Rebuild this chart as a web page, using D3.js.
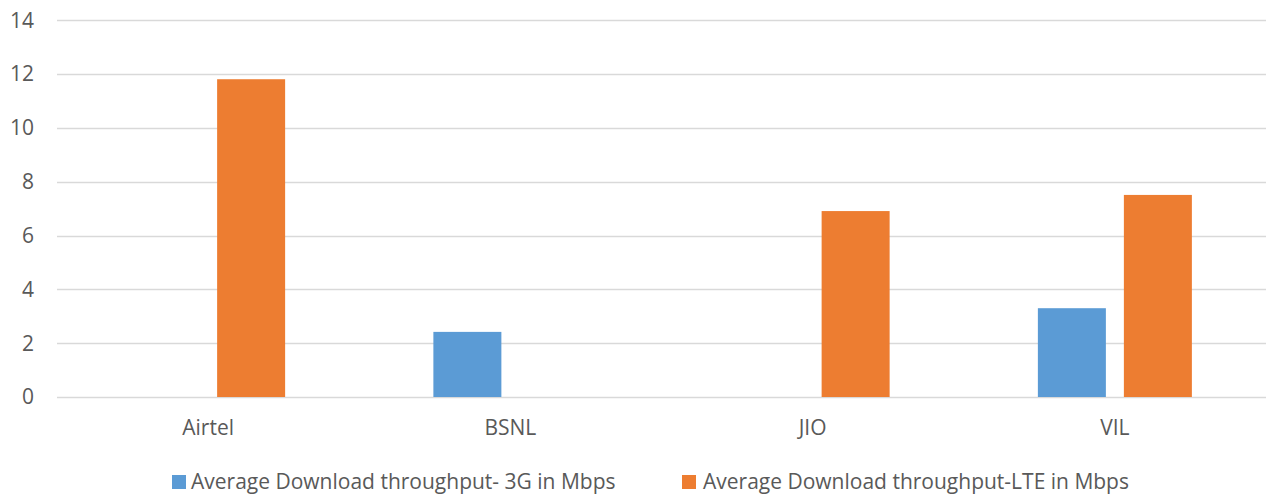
<!DOCTYPE html>
<html><head><meta charset="utf-8">
<script src="https://cdn.jsdelivr.net/npm/d3@7"></script>
<style>body{margin:0;background:#fff}svg{display:block}text{font-family:"Open Sans",sans-serif;fill:#595959}</style>
</head><body><svg id="c" width="1267" height="495"></svg>
<script>
const categories = ["Airtel","BSNL","JIO","VIL"];
const seriesNames = ["Average Download throughput- 3G in Mbps","Average Download throughput-LTE in Mbps"];
const values3G = [0, 2.42, 0, 3.30];
const valuesLTE = [11.81, 0, 6.91, 7.51];
const yTicks = [0,2,4,6,8,10,12,14];
const colors = ["#5B9BD5","#ED7D31"];

const svg = d3.select("#c");
const mLeft = 57, mRight = 1266, mTop = 20.3, mBottom = 397;
const y = d3.scaleLinear().domain([0,14]).range([mBottom, mTop]);
const x0 = d3.scaleBand().domain(categories).range([mLeft, mRight]).padding(0);
const groupW = 154;
const x1 = d3.scaleBand().domain([0,1])
  .range([(x0.bandwidth()-groupW)/2, (x0.bandwidth()+groupW)/2])
  .paddingInner(18/86).paddingOuter(0);

// gridlines
svg.append("g").selectAll("line").data(yTicks).join("line")
  .attr("x1", mLeft).attr("x2", mRight)
  .attr("y1", d=>Math.round(y(d))+0.5).attr("y2", d=>Math.round(y(d))+0.5)
  .attr("stroke", "#D9D9D9").attr("stroke-width", 1.5);

// y labels
svg.append("g").selectAll("text").data(yTicks).join("text")
  .attr("x", 34).attr("y", d=>y(d)).attr("dy","0.35em")
  .attr("text-anchor","end").attr("font-size", 21).text(d=>d);

// bars
const data = categories.map((c,i)=>({c, v:[values3G[i], valuesLTE[i]]}));
const g = svg.append("g").selectAll("g").data(data).join("g")
  .attr("transform", d=>`translate(${x0(d.c)},0)`);
g.selectAll("rect").data(d=>d.v.map((v,k)=>({v,k})).filter(e=>e.v>0)).join("rect")
  .attr("x", d=>x1(d.k)).attr("width", x1.bandwidth())
  .attr("y", d=>y(d.v)).attr("height", d=>y(0)-y(d.v))
  .attr("fill", d=>colors[d.k]);

// x labels
svg.append("g").selectAll("text").data(categories).join("text")
  .attr("x", d=>x0(d)+x0.bandwidth()/2).attr("y", 435)
  .attr("text-anchor","middle").attr("font-size", 21).text(d=>d);

// legend
const legX = [172, 682];
const legTx = [19, 21];
const leg = svg.append("g").selectAll("g").data(seriesNames).join("g")
  .attr("transform", (d,i)=>`translate(${legX[i]},0)`);
leg.append("rect").attr("x",0).attr("y",475).attr("width",14).attr("height",14).attr("fill",(d,i)=>colors[i]);
leg.append("text").attr("x",(d,i)=>legTx[i]).attr("y",489).attr("font-size",21).text(d=>d);
</script></body></html>
